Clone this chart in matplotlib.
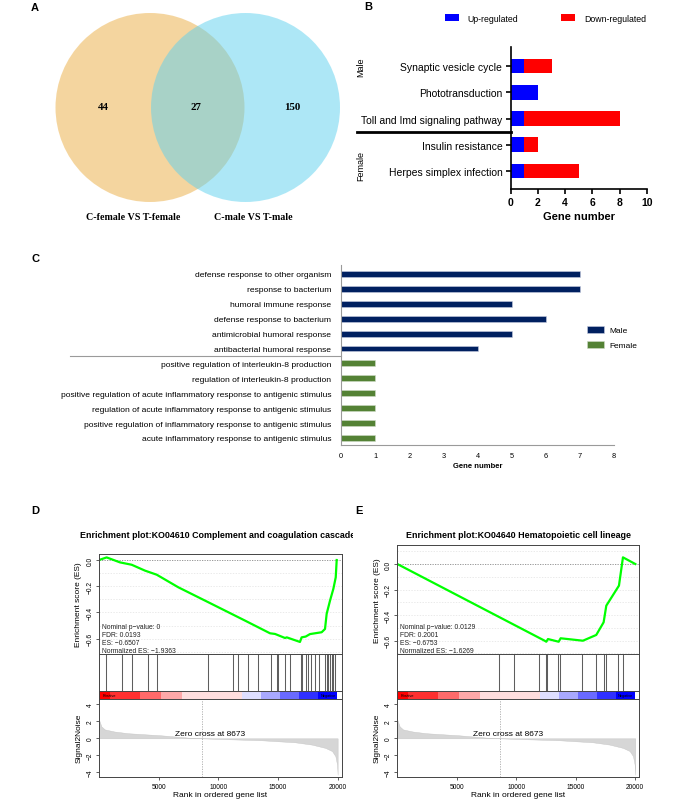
import numpy as np
import matplotlib.pyplot as plt
from matplotlib.patches import Circle
from matplotlib.transforms import Bbox, TransformedBbox

W, H = 685, 803
SANS = ['Liberation Sans', 'DejaVu Sans']
SERIF = ['Liberation Serif', 'DejaVu Serif']
plt.rcParams['font.family'] = SANS
plt.rcParams['axes.unicode_minus'] = True

#%% data

# A - venn
venn_names = ['C-female VS T-female', 'C-male VS T-male']
venn_counts = [44, 27, 150]          # female only, shared, male only

# B - KEGG pathways
kegg_terms = ['Synaptic vesicle cycle', 'Phototransduction',
              'Toll and Imd signaling pathway', 'Insulin resistance',
              'Herpes simplex infection']
kegg_up = [1, 2, 1, 1, 1]
kegg_down = [2, 0, 7, 1, 4]

# C - GO terms
go_male_terms = ['defense response to other organism', 'response to bacterium',
                 'humoral immune response', 'defense response to bacterium',
                 'antimicrobial humoral response', 'antibacterial humoral response']
go_male_counts = [7, 7, 5, 6, 5, 4]
go_female_terms = ['positive regulation of interleukin-8 production',
                   'regulation of interleukin-8 production',
                   'positive regulation of acute inflammatory response to antigenic stimulus',
                   'regulation of acute inflammatory response to antigenic stimulus',
                   'positive regulation of inflammatory response to antigenic stimulus',
                   'acute inflammatory response to antigenic stimulus']
go_female_counts = [1, 1, 1, 1, 1, 1]

# D/E - GSEA
zero_cross = 8673
sig_rank = [0, 200, 480, 1300, 2440, 5240, 7500, 8673, 10000, 13650, 16450,
            17850, 18980, 19540, 19820, 19960, 20010]
sig_val = [2.2, 1.4, 1.05, 0.8, 0.6, 0.35, 0.08, 0.0, -0.07, -0.23, -0.47,
           -0.74, -1.13, -1.5, -2.1, -3.1, -4.3]
cb_edges = [0, 900, 3440, 5200, 6950, 12000, 13600, 15200, 16800, 18400, 19990]

d_title = 'Enrichment plot:KO04610 Complement and coagulation cascades'
d_rank = [0, 640, 1760, 2740, 3860, 4840, 6650, 9450, 12240, 14340, 14760, 15600,
          15740, 16850, 16990, 17330, 17690, 18670, 18950, 19090, 19370, 19650,
          19850, 19930]
d_es = [0, 0.02, -0.018, -0.036, -0.081, -0.112, -0.208, -0.335, -0.462, -0.559,
        -0.564, -0.595, -0.59, -0.625, -0.59, -0.584, -0.565, -0.551, -0.526,
        -0.41, -0.31, -0.22, -0.132, 0.0]
d_hits = [590, 1900, 2740, 4140, 4840, 9170, 11260, 11630, 12520, 13360, 14390,
          14900, 15040, 15600, 16020, 16910, 16990, 17360, 17550, 17780, 18110,
          18450, 18950, 19090, 19230, 19370, 19510, 19650, 19790]
d_stats = ['Nominal p\u2212value: 0', 'FDR: 0.0193', 'ES: \u22120.6507',
           'Normalized ES: \u22121.9363']

e_title = 'Enrichment plot:KO04640 Hematopoietic cell lineage'
e_rank = [0, 12390, 12530, 12670, 13570, 13735, 15610, 16730, 17350, 17575,
          18640, 18976, 20013]
e_es = [0, -0.6, -0.608, -0.587, -0.608, -0.581, -0.6, -0.555, -0.456, -0.326,
        -0.169, 0.052, 0.0]
e_hits = [8520, 9800, 11950, 12500, 12600, 13500, 13650, 15550, 16710, 17350,
          17560, 18520, 18950]
e_stats = ['Nominal p\u2212value: 0.0129', 'FDR: 0.2001', 'ES: \u22120.6753',
           'Normalized ES: \u22121.6269']

#%% figure

fig = plt.figure(figsize=(W / 100, H / 100), dpi=100)


def rect(l, t, r, b):
    return [l / W, 1 - b / H, (r - l) / W, (b - t) / H]


def ftext(x, y, s, **kw):
    return fig.text(x / W, 1 - y / H, s, **kw)


for lab, x, y in [('A', 35, 8), ('B', 368, 7), ('C', 35, 259), ('D', 35, 511), ('E', 359, 511)]:
    ftext(x, y, lab, fontsize=8, fontweight='bold', ha='center', va='center')

#%% A venn

axA = fig.add_axes(rect(0, 0, 350, 235))
axA.set_xlim(0, 350)
axA.set_ylim(235, 0)
axA.axis('off')
axA.add_patch(Circle((150, 108.5), 94.5, fc='#EBAD41', alpha=0.5, lw=0))
axA.add_patch(Circle((245.5, 108.5), 94.5, fc='#5DD1EF', alpha=0.5, lw=0))
for x, n in zip([103, 196, 292], venn_counts):
    axA.text(x, 108, str(n), family=SERIF, fontweight='bold', fontsize=7.8,
             ha='center', va='center')
for x, s in zip([133, 253], venn_names):
    axA.text(x, 218, s, family=SERIF, fontweight='bold', fontsize=7.2,
             ha='center', va='center')

#%% B KEGG

axB = fig.add_axes(rect(510.7, 48, 646.7, 190))
yb = np.arange(len(kegg_terms))
axB.barh(yb, kegg_up, height=0.56, color='#0000FF', label='Up-regulated')
axB.barh(yb, kegg_down, left=kegg_up, height=0.56, color='#FF0000', label='Down-regulated')
axB.set_xlim(0, 10)
axB.set_ylim(len(kegg_terms) - 1 + 0.68, -0.72)
axB.set_xticks(range(0, 11, 2))
axB.set_yticks(yb, kegg_terms, fontsize=7.5)
axB.tick_params(axis='both', length=3.6, width=1.2, pad=2.4)
axB.tick_params(axis='x', labelsize=7.5)
for t in axB.get_xticklabels():
    t.set_fontweight('bold')
for s in ['top', 'right']:
    axB.spines[s].set_visible(False)
for s in ['left', 'bottom']:
    axB.spines[s].set_linewidth(1.2)
axB.set_xlabel('Gene number', fontsize=8, fontweight='bold', labelpad=3)
axB.plot([-1.13, 0], [2.5, 2.5], transform=axB.get_yaxis_transform(),
         color='black', lw=2, clip_on=False)
axB.text(-1.1, 0, 'Male', rotation=90, transform=axB.get_yaxis_transform(),
         ha='center', va='center', fontsize=6.5)
axB.text(-1.1, 3.75, 'Female', rotation=90, transform=axB.get_yaxis_transform(),
         ha='center', va='center', fontsize=6.5)
fig.legend(*axB.get_legend_handles_labels(), loc='center left',
           bbox_to_anchor=(445 / W, 1 - 19 / H), ncol=2, frameon=False,
           fontsize=6.3, handlelength=1.6, handleheight=0.7, handletextpad=1.0,
           columnspacing=4.9, borderpad=0, borderaxespad=0)

#%% C GO

axC = fig.add_axes(rect(341, 266, 614, 446))
ym = np.arange(len(go_male_terms))
yf = np.arange(len(go_female_terms)) + len(go_male_terms)
axC.barh(ym, go_male_counts, height=0.4, color='#002060', edgecolor='#c8cde0',
         lw=0.4, label='Male')
axC.barh(yf, go_female_counts, height=0.4, color='#548235', edgecolor='#d0dcc8',
         lw=0.4, label='Female')
axC.set_xlim(0, 8)
axC.set_ylim(len(ym) + len(yf) - 1 + 0.47, -0.6)
axC.set_xticks(range(0, 9))
axC.set_yticks(np.concatenate([ym, yf]), go_male_terms + go_female_terms, fontsize=6.1)
axC.tick_params(axis='y', length=0, pad=7)
axC.tick_params(axis='x', length=0, pad=5, labelsize=5.3)
for s in ['top', 'right']:
    axC.spines[s].set_visible(False)
for s in ['left', 'bottom']:
    axC.spines[s].set_color('#9a9a9a')
    axC.spines[s].set_linewidth(0.8)
axC.set_xlabel('Gene number', fontsize=5.5, fontweight='bold', labelpad=2)
axC.plot([-0.993, 0], [5.5, 5.5], transform=axC.get_yaxis_transform(),
         color='#9a9a9a', lw=0.8, clip_on=False)
fig.legend(*axC.get_legend_handles_labels(), loc='upper left',
           bbox_to_anchor=(587 / W, 1 - 327 / H), frameon=False, fontsize=6,
           handlelength=2.0, handleheight=0.9, handletextpad=0.7,
           labelspacing=0.8, borderpad=0, borderaxespad=0)

#%% D/E GSEA

cb_colors = ['#FF0000', '#FF3030', '#FF6A6A', '#FFA8A8', '#FFDEDE', '#DEDEFF',
             '#A8A8FF', '#6A6AFF', '#3030FF', '#0000FF']
XMAX = 20350
BOX = '#444444'


def gsea(left, right, es_top, es_lim, title, rank, es, hits, stats, clip_x=None):
    es_bot, hit_bot, cb_bot, sig_bot = 655, 691.7, 699.5, 778.3
    ax1 = fig.add_axes(rect(left, es_top, right, es_bot))
    ax2 = fig.add_axes(rect(left, es_bot, right, hit_bot))
    ax3 = fig.add_axes(rect(left, hit_bot, right, cb_bot))
    ax4 = fig.add_axes(rect(left, cb_bot, right, sig_bot))
    for ax in (ax1, ax2, ax3, ax4):
        ax.set_xlim(0, XMAX)
        for s in ax.spines.values():
            s.set_color(BOX)
            s.set_linewidth(0.7)
        ax.tick_params(length=2.5, width=0.6, labelsize=4.8, pad=1.5, color=BOX)
    # enrichment score
    for g in np.arange(-0.7, 0.25, 0.1):
        if abs(g) > 1e-6:
            ax1.axhline(g, color='#e2e2e2', lw=0.5, ls=(0, (2, 2)))
    ax1.axhline(0, color='#888888', lw=0.6, ls=(0, (1.5, 1.5)))
    ax1.plot(rank, es, color='#00FF00', lw=1.6)
    ax1.set_ylim(es_lim)
    ax1.set_yticks([0, -0.2, -0.4, -0.6], ['0.0', '\u22120.2', '\u22120.4', '\u22120.6'])
    ax1.set_xticks([])
    for lab in ax1.get_yticklabels():
        lab.set_rotation(90)
        lab.set_va('center')
    for i, s in enumerate(stats):
        ftext(left + 2.5, 627.3 + 8.1 * i, s, fontsize=4.9, va='center', color='#222222')
    ftext(left - 20, (es_top + es_bot) / 2, 'Enrichment score (ES)', rotation=90,
          fontsize=6, ha='center', va='center')
    # hits
    ax2.vlines(hits, 0, 1, colors='#5e5e5e', lw=0.75)
    ax2.set_ylim(0, 1)
    ax2.set_xticks([])
    ax2.set_yticks([])
    # ranked list colour bar
    ax3.bar(cb_edges[:-1], 1, width=np.diff(cb_edges), align='edge', color=cb_colors, lw=0)
    ax3.set_ylim(0, 1)
    ax3.set_xticks([])
    ax3.set_yticks([])
    ax3.text(300, 0.5, 'Positive', fontsize=2.8, va='center', ha='left')
    ax3.text(19850, 0.5, 'Negative', fontsize=2.8, va='center', ha='right')
    # signal to noise
    ax4.fill_between(sig_rank, sig_val, 0, color='#d6d6d6', lw=0.3, edgecolor='#c4c4c4')
    ax4.axvline(zero_cross, color='#aaaaaa', lw=0.6, ls=(0, (1.5, 1.5)))
    ax4.text(zero_cross + 600, 0.12, 'Zero cross at %d' % zero_cross, fontsize=6,
             ha='center', va='bottom')
    ax4.set_ylim(-4.6, 4.7)
    ax4.set_yticks([4, 2, 0, -2, -4], ['4', '2', '0', '\u22122', '\u22124'])
    for lab in ax4.get_yticklabels():
        lab.set_rotation(90)
        lab.set_va('center')
    ax4.set_xticks([5000, 10000, 15000, 20000])
    ax4.set_xlabel('Rank in ordered gene list', fontsize=6, labelpad=1)
    ftext(left - 20, 738.8, 'Signal2Noise', rotation=90, fontsize=6,
          ha='center', va='center')
    t = ftext((left + right) / 2, 535.7, title, fontsize=6.4, fontweight='bold',
              ha='center', va='center')
    if clip_x is not None:
        t.set_clip_box(TransformedBbox(Bbox([[0, 0], [clip_x / W, 1]]), fig.transFigure))
        t.set_clip_on(True)


gsea(99, 341.7, 555, (-0.717, 0.046), d_title, d_rank, d_es, d_hits, d_stats, clip_x=353)
gsea(397.3, 639.3, 545.7, (-0.704, 0.151), e_title, e_rank, e_es, e_hits, e_stats)

fig.savefig('out.png', dpi=100)
